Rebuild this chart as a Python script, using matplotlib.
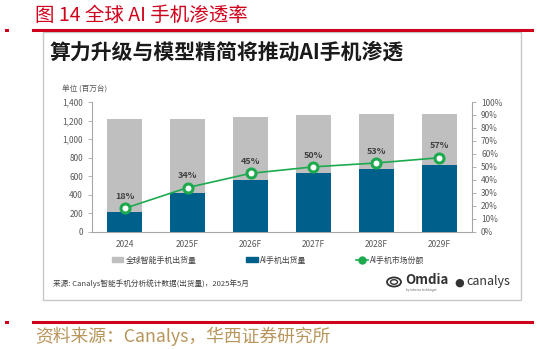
import matplotlib.pyplot as plt
from matplotlib.patches import Rectangle, Patch, Circle
from matplotlib.lines import Line2D

plt.rcParams['font.family'] = ['Noto Sans CJK SC', 'DejaVu Sans']

years = ['2024', '2025F', '2026F', '2027F', '2028F', '2029F']
total_shipments = [1216, 1218, 1238, 1260, 1267, 1267]
ai_shipments = [216, 421, 558, 630, 680, 723]
ai_share = [18, 34, 45, 50, 53, 57]

W, H = 537, 349
fig = plt.figure(figsize=(W / 100, H / 100), dpi=100)


def fx(px):
    return px / W


def fy(py):
    return 1 - py / H


# page frame: red header / footer lines and the grey panel box
red = '#d0021b'
fig.add_artist(Line2D([fx(33), fx(532)], [fy(30), fy(30)], color=red, lw=2.2))
fig.add_artist(Rectangle((fx(5), fy(31.5)), fx(4), 3 / H, color=red, lw=0))
fig.add_artist(Line2D([fx(33), fx(532)], [fy(322), fy(322)], color=red, lw=2.2))
fig.add_artist(Rectangle((fx(5), fy(323.5)), fx(4), 3 / H, color=red, lw=0))
fig.add_artist(Rectangle((fx(43), fy(300)), fx(521 - 43), (300 - 32) / H,
                         fill=False, edgecolor='#c8c8c8', lw=1))

fig.text(fx(35), fy(15), '图 14 全球 AI 手机渗透率', color=red, fontsize=14,
         va='center', ha='left')
fig.text(fx(35), fy(336), '资料来源：Canalys，华西证券研究所', color='#b8955a',
         fontsize=12.8, va='center', ha='left')
fig.text(fx(50), fy(52), '算力升级与模型精简将推动AI手机渗透', color='#1a1a1a',
         fontsize=15, fontweight='bold', va='center', ha='left')
fig.text(fx(62), fy(90), '单位 (百万台)', color='#595959', fontsize=5.5,
         va='center', ha='left')

# chart
ax = fig.add_axes([fx(92), fy(231.7), fx(472 - 92), 129.7 / H])
x = range(len(years))
ax.bar(x, total_shipments, width=0.55, color='#bfbfbf', zorder=2)
ax.bar(x, ai_shipments, width=0.55, color='#00608c', zorder=3)
ax.set_xlim(-0.52, 5.52)
ax.set_ylim(0, 1400)
ax.set_yticks(range(0, 1401, 200))
ax.set_yticklabels([f'{v:,}' for v in range(0, 1401, 200)])
ax.set_xticks(list(x))
ax.set_xticklabels(years)

ax2 = ax.twinx()
green = '#1daa4f'
ax2.plot(x, ai_share, color=green, lw=1.2, marker='o', markersize=6.5,
         markerfacecolor='white', markeredgecolor=green, markeredgewidth=2.2,
         zorder=5)
for i, v in enumerate(ai_share):
    ax2.annotate(f'{v}%', (i, v), xytext=(0, 8.5), textcoords='offset points',
                 ha='center', va='center', fontsize=6.5, fontweight='bold',
                 color='#404040')
ax2.set_ylim(0, 100)
ax2.set_yticks(range(0, 101, 10))
ax2.set_yticklabels([f'{v}%' for v in range(0, 101, 10)])

for a in (ax, ax2):
    for s in a.spines.values():
        s.set_visible(False)
    a.tick_params(colors='#595959', labelsize=6, length=3, width=0.6)
ax.spines['left'].set_visible(True)
ax.spines['left'].set_color('#a6a6a6')
ax.spines['bottom'].set_visible(True)
ax.spines['bottom'].set_color('#a6a6a6')
ax2.spines['right'].set_visible(True)
ax2.spines['right'].set_color('#a6a6a6')
ax.tick_params(axis='y', color='#a6a6a6')
ax2.tick_params(axis='y', color='#a6a6a6')
ax.tick_params(axis='x', length=0, pad=6)

handles = [Patch(color='#bfbfbf', label='全球智能手机出货量'),
           Patch(color='#00608c', label='AI手机出货量'),
           Line2D([], [], color=green, lw=1.2, marker='o', markersize=5,
                  markerfacecolor=green, markeredgecolor=green,
                  label='AI手机市场份额')]
fig.legend(handles=handles, loc='center', bbox_to_anchor=(fx(268), fy(260)),
           ncol=3, frameon=False, fontsize=5.7, labelcolor='#404040',
           handlelength=1.5, handleheight=0.5, handletextpad=0.25,
           columnspacing=6.3)

fig.text(fx(53), fy(284), '来源: Canalys智能手机分析统计数据(出货量)，2025年5月',
         color='#404040', fontsize=5.5, va='center', ha='left')

# logos as text
fig.add_artist(Circle((fx(394), fy(282)), 7 / W, transform=fig.transFigure,
                      fill=False, edgecolor='#333333', lw=1.3))
fig.add_artist(Circle((fx(394), fy(282)), 3.5 / W, transform=fig.transFigure,
                      fill=False, edgecolor='#333333', lw=1.0))
fig.text(fx(405), fy(280), 'Omdia', color='#333333', fontsize=9.5,
         fontweight='bold', va='center', ha='left')
fig.text(fx(406), fy(290), 'by informa techtarget', color='#666666',
         fontsize=2.2, va='center', ha='left')
fig.text(fx(454), fy(283), '●', color='#333333', fontsize=8,
         va='center', ha='left', family='DejaVu Sans')
fig.text(fx(466), fy(282), 'canalys', color='#333333', fontsize=9,
         va='center', ha='left')

fig.savefig('out.png', dpi=100)
